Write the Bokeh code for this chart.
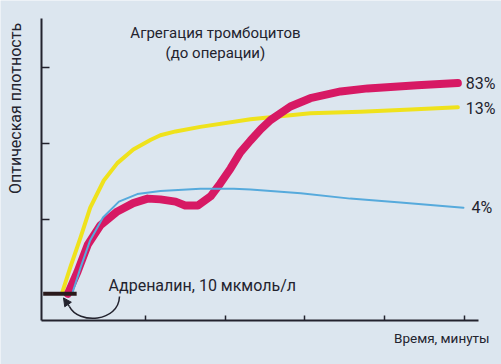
import math
from bokeh.plotting import figure
from bokeh.models import Range1d, FixedTicker, Label, Arrow, NormalHead
from bokeh.embed import file_html
from bokeh.resources import INLINE

# ---- data (time in minutes, optical density in axis units) ----
x_ticks = [1, 2, 3, 4, 5]
y_ticks = [1, 2, 3]
x_axis_bounds = (-0.30, 5.18)
y_axis_bounds = (-0.345, 3.65)

yellow_x = [-0.04, 0.06, 0.19, 0.31, 0.48, 0.65, 0.85, 1.07, 1.19, 1.38, 1.69, 2.32, 3.07, 3.70, 4.33, 4.92]
yellow_y = [0.03, 0.36, 0.76, 1.15, 1.51, 1.74, 1.92, 2.05, 2.11, 2.16, 2.22, 2.32, 2.40, 2.42, 2.45, 2.48]

magenta_x = [0.03, 0.15, 0.28, 0.44, 0.65, 0.85, 1.03, 1.19, 1.38, 1.50, 1.66, 1.82, 1.94, 2.07,
             2.19, 2.32, 2.45, 2.57, 2.82, 3.07, 3.45, 3.79, 4.41, 4.92]
magenta_y = [0.01, 0.30, 0.66, 0.92, 1.10, 1.21, 1.27, 1.26, 1.23, 1.18, 1.18, 1.30, 1.47, 1.67,
             1.88, 2.04, 2.19, 2.31, 2.49, 2.60, 2.69, 2.73, 2.77, 2.80]

blue_x = [0.09, 0.19, 0.31, 0.47, 0.67, 0.90, 1.19, 1.69, 2.11, 2.32, 2.95, 3.57, 4.20, 4.99]
blue_y = [0.03, 0.36, 0.72, 1.02, 1.23, 1.33, 1.37, 1.40, 1.40, 1.39, 1.34, 1.27, 1.22, 1.15]

series_labels = ["83%", "13%", "4%"]
label_x = [5.02, 5.02, 5.09]
label_y = [2.80, 2.46, 1.15]

baseline_x = [-0.28, 0.14]
baseline_y = [0.01, 0.01]

title_lines = ["Агрегация тромбоцитов", "(до операции)"]
y_title = "Оптическая плотность"
x_title = "Время, минуты"
agent_label = "Адреналин, 10 мкмоль/л"

BG = "#dce6ef"
INK = "#23232e"
FONT = "Roboto"

p = figure(width=501, height=364, output_backend="svg", toolbar_location=None,
           x_range=Range1d(-0.815, 5.467), y_range=Range1d(-0.927, 3.894),
           min_border=0)
p.background_fill_color = BG
p.border_fill_color = BG
p.outline_line_color = None
p.grid.visible = False

p.xaxis.fixed_location = y_axis_bounds[0]
p.yaxis.fixed_location = x_axis_bounds[0]
p.xaxis.bounds = x_axis_bounds
p.yaxis.bounds = y_axis_bounds

for ax, ticks, tin in ((p.xaxis[0], x_ticks, 5), (p.yaxis[0], y_ticks, 8)):
    ax.ticker = FixedTicker(ticks=ticks)
    ax.major_tick_in = tin
    ax.major_tick_out = 0
    ax.minor_tick_line_color = None
    ax.major_label_text_font_size = "0px"
    ax.major_label_text_color = None
    ax.major_label_standoff = 0
    ax.axis_line_width = 2
    ax.axis_line_color = INK
    ax.major_tick_line_color = INK
    ax.major_tick_line_width = 1.5

p.line(yellow_x, yellow_y, line_color="#efe21c", line_width=4, line_cap="round", line_join="round")
p.line(magenta_x, magenta_y, line_color="#d71964", line_width=8, line_cap="round", line_join="round")
p.line(blue_x, blue_y, line_color="#56aadc", line_width=2, line_cap="round", line_join="round")

p.line(baseline_x, baseline_y, line_color="#2a1a1c", line_width=4)

# curved arrow from the label to the baseline
p.bezier(x0=[0.677], y0=[-0.026], cx0=[0.665], cy0=[-0.371], cx1=[0.163], cy1=[-0.397],
         x1=[0.05], y1=[-0.16], line_color=INK, line_width=1.5)
p.add_layout(Arrow(end=NormalHead(size=8, fill_color=INK, line_color=INK),
                   x_start=0.05, y_start=-0.16, x_end=-0.025, y_end=-0.045,
                   line_color=INK, line_width=1.5))

def lab(text, x, y, size="16px", align="left", baseline="middle", angle=0.0):
    p.add_layout(Label(x=x, y=y, text=text, text_font=FONT, text_font_size=size,
                       text_color=INK, text_align=align, text_baseline=baseline, angle=angle))

lab(title_lines[0], 1.88, 3.457, size="15px", align="center")
lab(title_lines[1], 1.88, 3.205, size="15px", align="center")
for t, x, y in zip(series_labels, label_x, label_y):
    lab(t, x, y)
lab(agent_label, 0.54, 0.12)
lab(x_title, 5.317, -0.57, size="13.5px", align="right")
lab(y_title, -0.627, 2.464, align="center", angle=math.pi / 2)

open("out.html", "w").write(file_html(p, INLINE))
